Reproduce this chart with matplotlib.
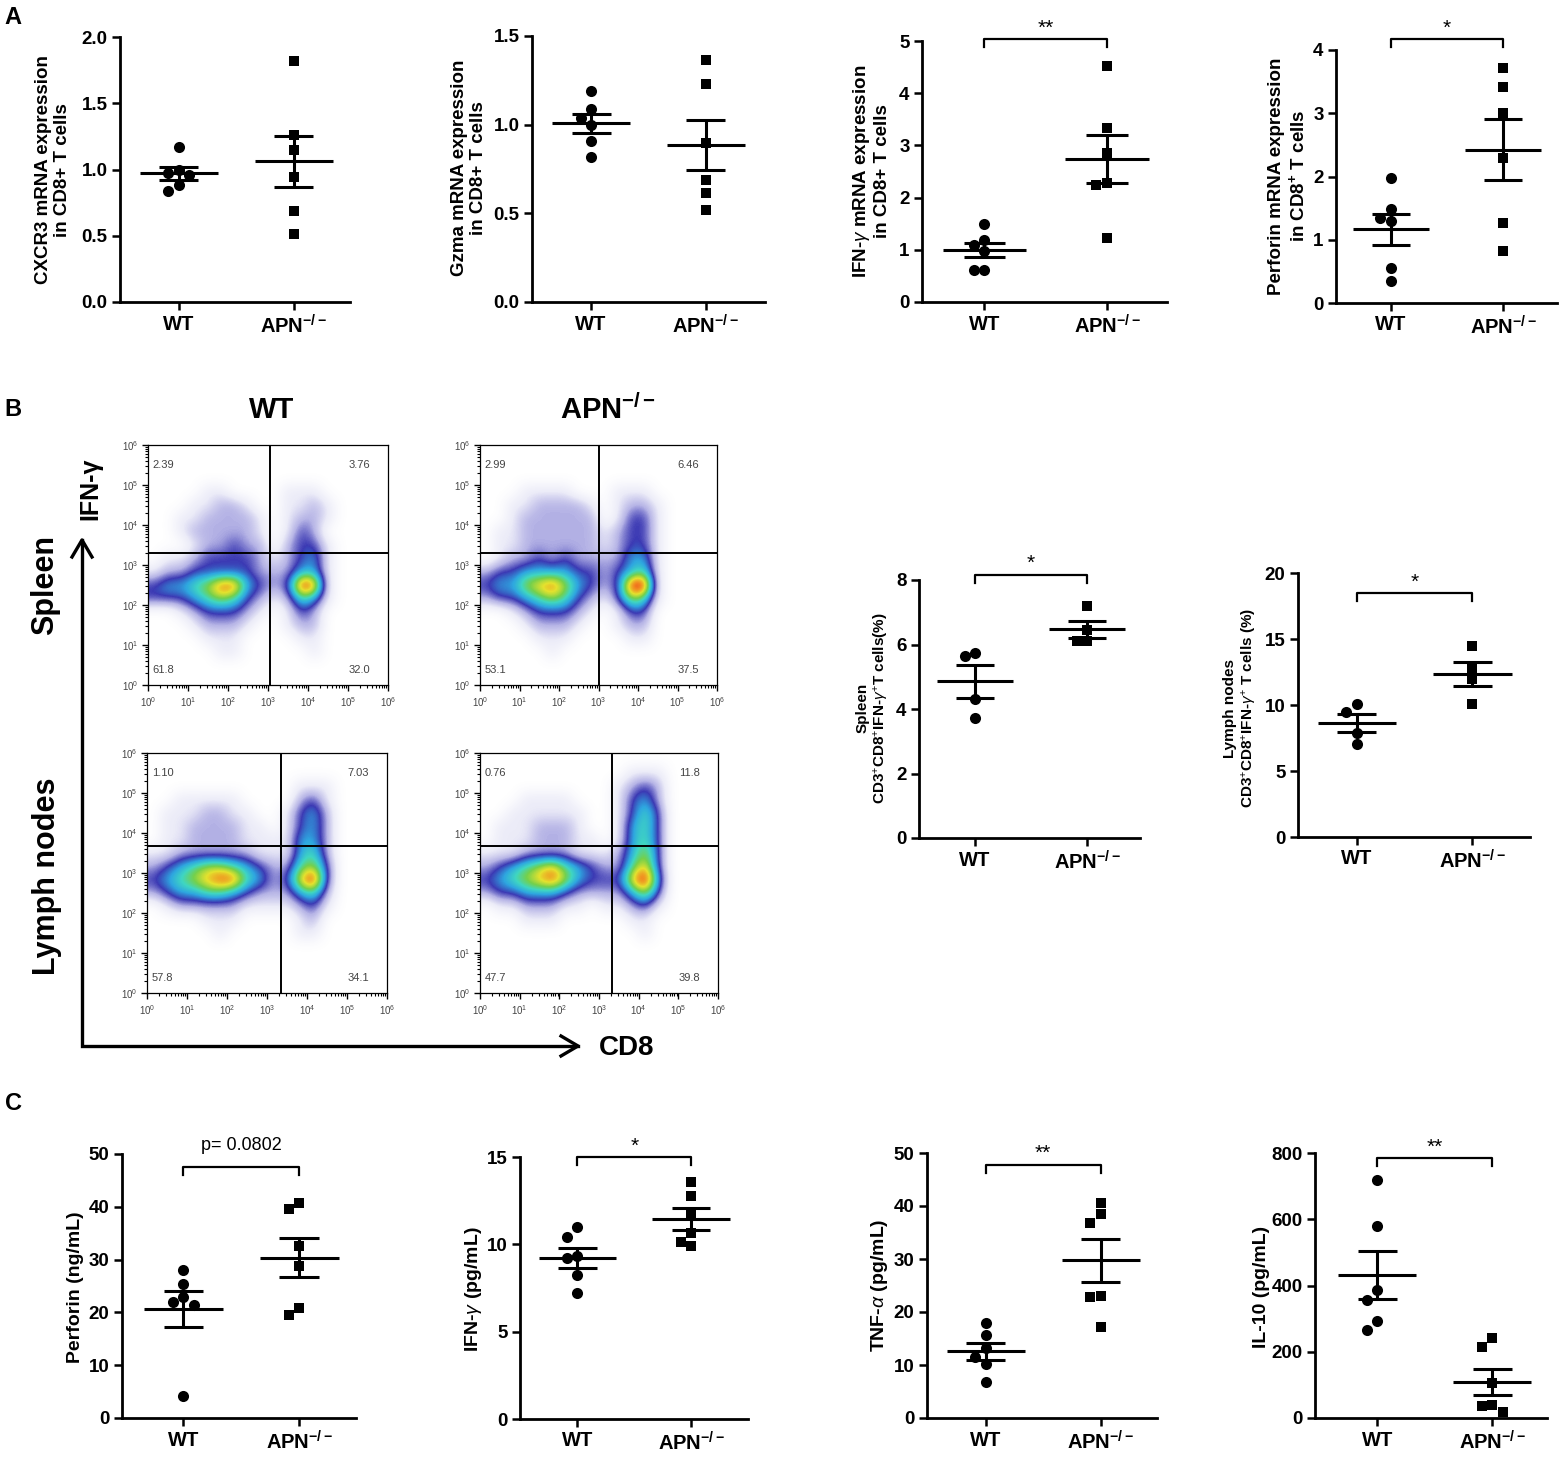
import numpy as np
import matplotlib
matplotlib.use('Agg')
import matplotlib.pyplot as plt
from matplotlib.colors import LinearSegmentedColormap
from matplotlib.ticker import FormatStrFormatter

plt.rcParams['font.family'] = ['Liberation Sans', 'DejaVu Sans']
plt.rcParams['mathtext.fontset'] = 'custom'
plt.rcParams['mathtext.rm'] = 'Liberation Sans'
plt.rcParams['mathtext.it'] = 'Liberation Sans:italic'
plt.rcParams['mathtext.bf'] = 'Liberation Sans:bold'

#%% data
groups = ['WT', r'APN$^{\mathbf{-/-}}$']

# A: mRNA expression in CD8+ T cells
cxcr3_wt = [1.17, 1.00, 0.97, 0.96, 0.88, 0.84]
cxcr3_apn = [1.82, 1.26, 1.145, 0.94, 0.69, 0.51]
gzma_wt = [1.19, 1.09, 1.04, 1.00, 0.91, 0.82]
gzma_apn = [1.365, 1.23, 0.898, 0.69, 0.615, 0.52]
ifng_mrna_wt = [1.50, 1.18, 1.10, 0.97, 0.62, 0.62]
ifng_mrna_apn = [4.53, 3.34, 2.85, 2.28, 2.25, 1.22]
prf_mrna_wt = [1.97, 1.48, 1.34, 1.29, 0.55, 0.35]
prf_mrna_apn = [3.72, 3.42, 3.01, 2.30, 1.26, 0.83]

# B: % CD3+CD8+IFN-g+ T cells
spleen_wt = [5.65, 5.75, 4.30, 3.72]
spleen_apn = [7.20, 6.45, 6.12, 6.10]
ln_wt = [10.05, 9.50, 7.90, 7.06]
ln_apn = [14.5, 12.8, 12.0, 10.05]

# C: serum cytokines
perforin_wt = [28.0, 25.4, 22.9, 21.9, 21.4, 4.2]
perforin_apn = [40.7, 39.6, 32.6, 28.8, 20.8, 19.5]
ifng_wt = [10.97, 10.44, 9.35, 9.20, 8.25, 7.20]
ifng_apn = [13.58, 12.76, 11.68, 10.63, 10.15, 9.90]
tnfa_wt = [17.9, 15.7, 13.2, 11.6, 10.25, 6.7]
tnfa_apn = [40.6, 38.4, 36.8, 22.96, 22.8, 17.1]
il10_wt = [717, 580, 385, 355, 292, 265]
il10_apn = [241, 214, 106, 40, 37, 17]

# significance annotations: (text, bar height)
sig_ifng_mrna = ('**', 5.03)
sig_prf_mrna = ('*', 4.17)
sig_spleen = ('*', 8.17)
sig_ln = ('*', 18.5)
sig_perforin = ('p= 0.0802', 47.6)
sig_ifng = ('*', 15.0)
sig_tnfa = ('**', 47.8)
sig_il10 = ('**', 785)

# flow plots: density level (0-9) on a 1/3-decade grid, rows from 10^6 down to 10^0
flow_wt_spleen = [
    "000000000000000000", "000000000000000000", "000000000000000000",
    "000011000011100000", "000112210011210000", "001122221012210000",
    "001222221013200000", "000122322023310000", "011233332123410000",
    "122333332224410000", "344568843239810000", "333456532125410000",
    "001233321013200000", "000122210012200000", "000011100001100000",
    "000001100000100000", "000000000000000000", "000000000000000000"]
flow_apn_spleen = [
    "000000000000000000", "000000000000000000", "000000000000000000",
    "000111100011100000", "001122221012210000", "001222222013310000",
    "011222222123310000", "011222222123310000", "012232322224410000",
    "233444433234510000", "344678643239910000", "233456532136510000",
    "001233321013300000", "000122210012200000", "000011100001100000",
    "000001000000000000", "000000000000000000", "000000000000000000"]
flow_wt_ln = [
    "000000000000000000", "000000000000000000", "000000000001110000",
    "001111100002310000", "011122110013420000", "011222211013420000",
    "011222211114420000", "112222221114520000", "234566543225630000",
    "345678854237930000", "234455432224520000", "012222211112310000",
    "000011100001200000", "000001000001100000", "000000000000000000",
    "000000000000000000", "000000000000000000", "000000000000000000"]
flow_apn_ln = [
    "000000000000000000", "000000000001110000", "000000000012320000",
    "000111100013420000", "001111110013530000", "011122210014530000",
    "011122211014530000", "111222211124630000", "234567543225730000",
    "345678643337940000", "233444322224630000", "011222110112310000",
    "000111000001100000", "000000000000100000", "000000000000000000",
    "000000000000000000", "000000000000000000", "000000000000000000"]
# gates (log10 CD8, log10 IFN-g) and quadrant percentages UL, UR, LL, LR
gates_wt_spleen = (3.04, 3.29)
gates_apn_spleen = (3.02, 3.31)
gates_wt_ln = (3.36, 3.67)
gates_apn_ln = (3.34, 3.68)
pct_wt_spleen = ['2.39', '3.76', '61.8', '32.0']
pct_apn_spleen = ['2.99', '6.46', '53.1', '37.5']
pct_wt_ln = ['1.10', '7.03', '57.8', '34.1']
pct_apn_ln = ['0.76', '11.8', '47.7', '39.8']

#%% figure
W, H = 1560, 1464
fig = plt.figure(figsize=(W / 100, H / 100), dpi=100)
ov = fig.add_axes([0, 0, 1, 1])
ov.set_xlim(0, W)
ov.set_ylim(H, 0)
ov.axis('off')


def px_axes(l, r, t, b):
    return fig.add_axes([l / W, 1 - b / H, (r - l) / W, (b - t) / H])


def swarm(vals, ypx, xpx, d=10.5):
    # place overlapping points side by side, like GraphPad
    vals = np.asarray(vals, float)
    offs = np.zeros(len(vals))
    placed = []
    for k in np.argsort(-vals):
        y = vals[k] * ypx
        for step in [0, -1, 1, -2, 2, -3, 3]:
            x = step * d
            if all((x - a) ** 2 + (y - b) ** 2 >= (d * 0.95) ** 2 for a, b in placed):
                break
        placed.append((x, y))
        offs[k] = x / xpx
    return offs


def dot_panel(box, wt, apn, yticks, fmt, xlim, sig=None):
    l, r, t, b = box
    ax = px_axes(l, r, t, b)
    ax.set_xlim(xlim)
    ax.set_ylim(yticks[0], yticks[-1])
    ypx = (b - t) / (yticks[-1] - yticks[0])
    xpx = (r - l) / (xlim[1] - xlim[0])
    for i, (vals, mk, ms) in enumerate([(wt, 'o', 8.0), (apn, 's', 7.4)]):
        vals = np.asarray(vals, float)
        offs = swarm(vals, ypx, xpx)
        ax.plot(i + offs, vals, mk, color='black', ms=ms, mew=0, clip_on=False, zorder=3)
        m = vals.mean()
        s = vals.std(ddof=1) / np.sqrt(len(vals))
        ax.hlines(m, i - 0.34, i + 0.34, color='black', lw=2.2, zorder=4)
        ax.hlines([m - s, m + s], i - 0.17, i + 0.17, color='black', lw=2.2, zorder=4)
        ax.vlines(i, m - s, m + s, color='black', lw=2.2, zorder=4)
    if sig is not None:
        txt, y = sig
        h = 8 / ypx
        ax.plot([0, 0, 1, 1], [y - h, y, y, y - h], color='black', lw=1.6, clip_on=False)
        if txt.startswith('p'):
            ax.annotate(txt, (0.5, y), xytext=(0, 9), textcoords='offset points',
                        ha='center', va='bottom', fontsize=13, annotation_clip=False)
        else:
            ax.annotate(txt, (0.5, y), xytext=(0, 1), textcoords='offset points',
                        ha='center', va='bottom', fontsize=15, annotation_clip=False)
    ax.set_yticks(yticks)
    ax.yaxis.set_major_formatter(FormatStrFormatter(fmt))
    ax.set_xticks([0, 1])
    ax.set_xticklabels(groups, fontsize=14.5, fontweight='bold')
    for lab in ax.get_yticklabels():
        lab.set_fontweight('bold')
        lab.set_fontsize(13.5)
    ax.tick_params(width=1.8, length=6, pad=3)
    for sp in ['top', 'right']:
        ax.spines[sp].set_visible(False)
    for sp in ['left', 'bottom']:
        ax.spines[sp].set_linewidth(2.0)
    ax.patch.set_alpha(0)
    return ax


xl = (-0.51, 1.49)

# panel A
dot_panel((120, 350, 37, 302), cxcr3_wt, cxcr3_apn, [0, 0.5, 1.0, 1.5, 2.0], '%.1f', xl)
dot_panel((532, 765, 36, 302), gzma_wt, gzma_apn, [0, 0.5, 1.0, 1.5], '%.1f', (-0.515, 1.515))
dot_panel((922, 1167, 41, 302), ifng_mrna_wt, ifng_mrna_apn, [0, 1, 2, 3, 4, 5], '%d', xl, sig_ifng_mrna)
dot_panel((1336, 1557, 50, 303), prf_mrna_wt, prf_mrna_apn, [0, 1, 2, 3, 4], '%d', (-0.49, 1.48), sig_prf_mrna)

# panel B scatter
dot_panel((919, 1140, 580, 838), spleen_wt, spleen_apn, [0, 2, 4, 6, 8], '%d', (-0.5, 1.47), sig_spleen)
dot_panel((1298, 1530, 573, 837), ln_wt, ln_apn, [0, 5, 10, 15, 20], '%d', (-0.51, 1.5), sig_ln)

# panel C
dot_panel((122, 356, 1154, 1418), perforin_wt, perforin_apn, [0, 10, 20, 30, 40, 50], '%d', (-0.528, 1.49), sig_perforin)
dot_panel((520, 748, 1157, 1419), ifng_wt, ifng_apn, [0, 5, 10, 15], '%d', (-0.504, 1.5), sig_ifng)
dot_panel((927, 1157, 1153, 1418), tnfa_wt, tnfa_apn, [0, 10, 20, 30, 40, 50], '%d', xl, sig_tnfa)
dot_panel((1315, 1547, 1153, 1418), il10_wt, il10_apn, [0, 200, 400, 600, 800], '%d', (-0.543, 1.478), sig_il10)

# y axis labels
ylabels = [
    ((53, 170), 'CXCR3 mRNA expression\nin CD8+ T cells', 13.5),
    ((469, 168), 'Gzma mRNA expression\nin CD8+ T cells', 13.5),
    ((871, 171), r'IFN-$\gamma$ mRNA expression' + '\nin CD8+ T cells', 13.5),
    ((1288, 176), 'Perforin mRNA expression\n' + r'in CD8$^{\mathbf{+}}$ T cells', 13.5),
    ((873, 708), 'Spleen\n' + r'CD3$^{+}$CD8$^{+}$IFN-$\gamma^{+}$T cells(%)', 11),
    ((1241, 708), 'Lymph nodes\n' + r'CD3$^{+}$CD8$^{+}$IFN-$\gamma^{+}$ T cells (%)', 11),
    ((76, 1287), 'Perforin (ng/mL)', 14),
    ((473, 1289), r'IFN-$\gamma$ (pg/mL)', 14),
    ((880, 1285), r'TNF-$\alpha$ (pg/mL)', 14),
    ((1262, 1287), 'IL-10 (pg/mL)', 14),
]
for (x, y), txt, fs in ylabels:
    ov.text(x, y, txt, rotation=90, ha='center', va='center', fontsize=fs,
            fontweight='bold', multialignment='center', linespacing=1.15)

# panel letters
for x, y, s in [(13, 18, 'A'), (13, 410, 'B'), (13, 1103, 'C')]:
    ov.text(x, y, s, ha='center', va='center', fontsize=17, fontweight='bold')

#%% flow cytometry plots
cmap = LinearSegmentedColormap.from_list('flow', [
    (0.0, '#ffffff'), (0.12, '#ececf8'), (0.24, '#b6b4e6'), (0.36, '#3c3ab4'),
    (0.48, '#2ea6e0'), (0.58, '#3fd6c2'), (0.68, '#74d04c'), (0.79, '#e4e22e'),
    (0.89, '#f28a20'), (1.0, '#e61c1c')])


def flow_panel(box, grid, gates, pct):
    l, r, t, b = box
    ax = px_axes(l, r, t, b)
    z = np.array([[int(c) for c in row] for row in grid], float)
    ax.imshow(z, extent=[0, 6, 0, 6], origin='upper', cmap=cmap, vmin=0, vmax=8.2,
              interpolation='bicubic', interpolation_stage='data', aspect='auto')
    ax.axvline(gates[0], color='black', lw=1.4)
    ax.axhline(gates[1], color='black', lw=1.4)
    ax.set_xlim(0, 6)
    ax.set_ylim(0, 6)
    major = np.arange(7)
    minor = np.array([k + np.log10(m) for k in range(6) for m in range(2, 10)])
    for axis in (ax.xaxis, ax.yaxis):
        axis.set_ticks(major)
        axis.set_ticks(minor, minor=True)
        axis.set_ticklabels([r'$10^{%d}$' % k for k in major])
    ax.tick_params(which='major', length=4, width=1.0, labelsize=7, labelcolor='#444', pad=3)
    ax.tick_params(which='minor', length=2, width=0.8)
    for sp in ax.spines.values():
        sp.set_linewidth(0.9)
    kw = dict(fontsize=8, color='#444')
    ax.text(0.12, 5.5, pct[0], ha='left', va='center', **kw)
    ax.text(5.55, 5.5, pct[1], ha='right', va='center', **kw)
    ax.text(0.12, 0.38, pct[2], ha='left', va='center', **kw)
    ax.text(5.55, 0.38, pct[3], ha='right', va='center', **kw)


flow_panel((148, 388, 445, 685), flow_wt_spleen, gates_wt_spleen, pct_wt_spleen)
flow_panel((480, 717, 445, 685), flow_apn_spleen, gates_apn_spleen, pct_apn_spleen)
flow_panel((147, 387, 753, 993), flow_wt_ln, gates_wt_ln, pct_wt_ln)
flow_panel((480, 718, 753, 993), flow_apn_ln, gates_apn_ln, pct_apn_ln)

# flow headers, axis arrows
ov.text(272, 410, 'WT', ha='center', va='center', fontsize=21, fontweight='bold')
ov.text(608, 410, r'APN$^{\mathbf{-/-}}$', ha='center', va='center', fontsize=21, fontweight='bold')
ov.text(45, 585, 'Spleen', rotation=90, ha='center', va='center', fontsize=22, fontweight='bold')
ov.text(47, 876, 'Lymph nodes', rotation=90, ha='center', va='center', fontsize=22, fontweight='bold')
ov.text(90, 489, 'IFN-γ', rotation=90, ha='center', va='center', fontsize=18, fontweight='bold')
ov.text(627, 1048, 'CD8', ha='center', va='center', fontsize=20, fontweight='bold')
ov.plot([82, 82, 578], [540, 1046, 1046], color='black', lw=2.4, solid_joinstyle='miter')
ov.plot([72, 82, 92], [557, 540, 557], color='black', lw=2.4)
ov.plot([561, 578, 561], [1036, 1046, 1056], color='black', lw=2.4)

fig.savefig('out.png', dpi=100)
